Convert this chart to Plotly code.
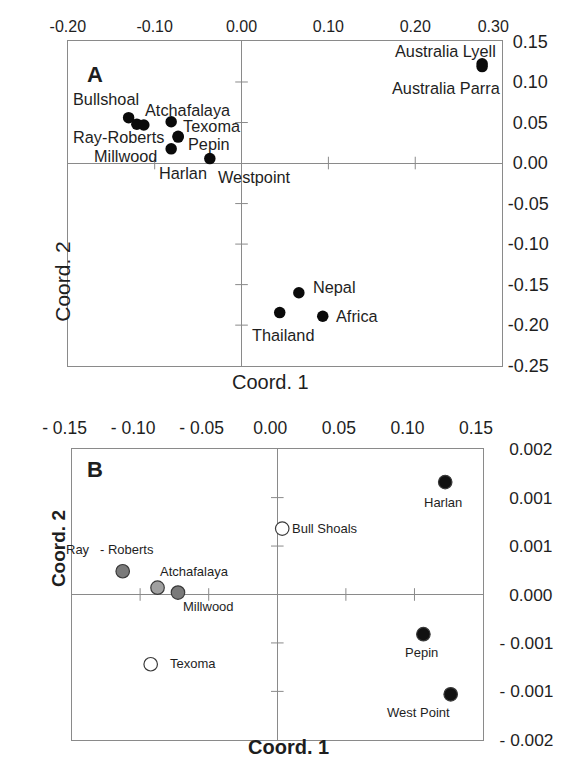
import plotly.graph_objects as go

W, H = 569, 781

# ---------------- Panel A data ----------------
a_sites = ["Australia Lyell", "Australia Parra", "Bullshoal", "Ray-Roberts", "Millwood",
           "Atchafalaya", "Texoma", "Pepin", "Harlan", "Westpoint", "Nepal", "Thailand", "Africa"]
a_x = [0.277, 0.277, -0.130, -0.1205, -0.1125, -0.081, -0.073, -0.073, -0.081, -0.0365, 0.066, 0.044, 0.0935]
a_y = [0.1225, 0.119, 0.056, 0.048, 0.047, 0.051, 0.033, 0.032, 0.0175, 0.0055, -0.160, -0.1845, -0.189]
a_xticks = [-0.20, -0.10, 0.00, 0.10, 0.20, 0.30]
a_xticktext = ["-0.20", "-0.10", "0.00", "0.10", "0.20", "0.30\u00a0\u00a0\u00a0\u00a0"]
a_yticks = [0.15, 0.10, 0.05, 0.00, -0.05, -0.10, -0.15, -0.20, -0.25]
a_yticktext = ["\u00a00.15", "\u00a00.10", "\u00a00.05", "\u00a00.00", "-0.05", "-0.10", "-0.15", "-0.20", "-0.25"]

# ---------------- Panel B data ----------------
b_sites = ["Harlan", "Bull Shoals", "Ray   - Roberts", "Atchafalaya", "Millwood", "Texoma", "Pepin", "West Point"]
b_x = [0.1224, 0.0036, -0.1127, -0.0873, -0.0724, -0.0923, 0.1065, 0.1264]
b_y = [0.00116, 0.00068, 0.00024, 0.00007, 0.00002, -0.00072, -0.00041, -0.00103]
b_group = ["black", "open", "gray", "light", "gray", "open", "black", "black"]
b_xticks = [-0.15, -0.10, -0.05, 0.00, 0.05, 0.10, 0.15]
b_xticktext = ["- 0.15", "- 0.10", "- 0.05", "0.00", "0.05", "0.10", "0.15"]
b_yticks = [0.0015, 0.001, 0.0005, 0.0, -0.0005, -0.001, -0.0015]
b_yticktext = ["\u00a0\u00a00.002", "\u00a0\u00a00.001", "\u00a0\u00a00.001", "\u00a0\u00a00.000",
               "- 0.001", "- 0.001", "- 0.002"]

# ---------------- styles (pixel offsets of labels) ----------------
a_dx = [-37, -36, -23, -18, -18, 17, 34, 31, 12, 45, 36, 3, 35]
a_dy = [13, -21, 19, -13, -31, 12, 10, -7, -24, -18, 6, -22, 0]
b_dx = [-2, 43, -13, 37, 31, 42, -2, -32]
b_dy = [-20, 0, 22, 16, -14, 1, -18, -18]
fill_map = {"black": "#111111", "open": "#ffffff", "gray": "#7a7a7a", "light": "#a0a0a0"}

LINE = "#8a8a8a"
TXT = "#1e1e1e"
FONT = "Liberation Sans, Arial, sans-serif"

def px(x):
    return x / W

def py(y):
    return 1 - y / H

fig = go.Figure()

# zero-line tick marks (panel A)
a_inner_y = [v for v in a_yticks if v not in (0.0, max(a_yticks), min(a_yticks))]
a_inner_x = [v for v in a_xticks if v not in (0.0, max(a_xticks), min(a_xticks))]
fig.add_trace(go.Scatter(x=[0] * len(a_inner_y), y=a_inner_y, mode="markers", xaxis="x", yaxis="y",
                         marker=dict(symbol="line-ew", size=9, line=dict(width=1, color=LINE)),
                         hoverinfo="skip", showlegend=False))
fig.add_trace(go.Scatter(x=a_inner_x, y=[0] * len(a_inner_x), mode="markers", xaxis="x", yaxis="y",
                         marker=dict(symbol="line-ns", size=9, line=dict(width=1, color=LINE)),
                         hoverinfo="skip", showlegend=False))
# points A
fig.add_trace(go.Scatter(x=a_x, y=a_y, mode="markers", xaxis="x", yaxis="y",
                         marker=dict(size=11.5, color="#0a0a0a", line=dict(width=0)),
                         text=a_sites, hoverinfo="text", showlegend=False))

# zero-line tick marks (panel B)
b_inner_y = [v for v in b_yticks if v not in (0.0, max(b_yticks), min(b_yticks))]
b_inner_x = [v for v in b_xticks if v not in (0.0, max(b_xticks), min(b_xticks))]
fig.add_trace(go.Scatter(x=[0] * len(b_inner_y), y=b_inner_y, mode="markers", xaxis="x2", yaxis="y2",
                         marker=dict(symbol="line-ew", size=9, line=dict(width=1, color=LINE)),
                         hoverinfo="skip", showlegend=False))
fig.add_trace(go.Scatter(x=b_inner_x, y=[0] * len(b_inner_x), mode="markers", xaxis="x2", yaxis="y2",
                         marker=dict(symbol="line-ns", size=9, line=dict(width=1, color=LINE)),
                         hoverinfo="skip", showlegend=False))
# points B
fig.add_trace(go.Scatter(x=b_x, y=b_y, mode="markers", xaxis="x2", yaxis="y2",
                         marker=dict(size=13.5, color=[fill_map[g] for g in b_group],
                                     line=dict(width=1.2, color="#3a3a3a")),
                         text=b_sites, hoverinfo="text", showlegend=False))

ann = []
for s, x, y, dx, dy in zip(a_sites, a_x, a_y, a_dx, a_dy):
    ann.append(dict(x=x, y=y, xref="x", yref="y", text=s, showarrow=False, xshift=dx, yshift=dy,
                    font=dict(family=FONT, size=16.3, color=TXT)))
for s, x, y, dx, dy in zip(b_sites, b_x, b_y, b_dx, b_dy):
    ann.append(dict(x=x, y=y, xref="x2", yref="y2", text=s, showarrow=False, xshift=dx, yshift=dy,
                    font=dict(family=FONT, size=13, color=TXT)))

ann += [
    dict(x=px(61.7), y=py(51.7), xref="paper", yref="paper", text="<b>A</b>", showarrow=False,
         font=dict(family=FONT, size=22, color=TXT)),
    dict(x=px(61.7), y=py(471.7), xref="paper", yref="paper", text="<b>B</b>", showarrow=False,
         font=dict(family=FONT, size=22, color=TXT)),
    dict(x=px(266.6), y=py(382), xref="paper", yref="paper", text="Coord. 1", showarrow=False,
         font=dict(family=FONT, size=20, color=TXT)),
    dict(x=px(21.8), y=py(235), xref="paper", yref="paper", text="Coord. 2", showarrow=False, textangle=-90,
         font=dict(family=FONT, size=21, color=TXT)),
    dict(x=px(286.5), y=py(770), xref="paper", yref="paper", text="<b>Coord. 1</b>", showarrow=False,
         font=dict(family=FONT, size=20, color=TXT)),
    dict(x=px(18), y=py(594), xref="paper", yref="paper", text="<b>Coord. 2</b>", showarrow=False, textangle=-90,
         font=dict(family=FONT, size=19, color=TXT)),
]

axis_common = dict(showgrid=False, showline=True, mirror=True, linecolor=LINE, linewidth=1.2,
                   zeroline=True, zerolinecolor=LINE, zerolinewidth=1.2, ticks="outside",
                   tickcolor="rgba(0,0,0,0)", fixedrange=True)

fig.update_layout(
    width=W, height=H, autosize=False,
    margin=dict(l=0, r=0, t=0, b=0),
    paper_bgcolor="white", plot_bgcolor="white",
    showlegend=False,
    xaxis=dict(axis_common, domain=[px(42.8), px(521.7)], range=[-0.20, 0.30], side="top",
               tickvals=a_xticks, ticktext=a_xticktext, ticklen=2,
               tickfont=dict(family=FONT, size=16, color=TXT), anchor="y"),
    yaxis=dict(axis_common, domain=[py(365), py(32.3)], range=[-0.25, 0.15], side="right",
               tickvals=a_yticks, ticktext=a_yticktext, ticklen=1,
               tickfont=dict(family=FONT, size=18, color=TXT), anchor="x"),
    xaxis2=dict(axis_common, domain=[px(46.9), px(500.7)], range=[-0.15, 0.15], side="top",
                tickvals=b_xticks, ticktext=b_xticktext, ticklen=7, ticklabelshift=-7,
                tickfont=dict(family=FONT, size=17.5, color=TXT), anchor="y2"),
    yaxis2=dict(axis_common, domain=[py(749), py(450.7)], range=[-0.0015, 0.0015], side="right",
                tickvals=b_yticks, ticktext=b_yticktext, ticklen=12,
                tickfont=dict(family=FONT, size=17.3, color=TXT), anchor="x2"),
    annotations=ann,
)

fig.write_html("out.html", config={"displayModeBar": False},
               post_script="document.body.style.margin='0';document.body.style.overflow='hidden';")
